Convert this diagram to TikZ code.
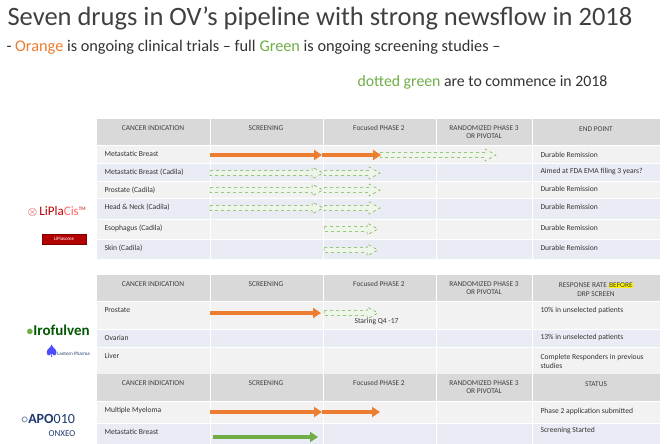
\documentclass[tikz,border=0pt]{standalone}
\usepackage{fontspec}
\setmainfont{Carlito}
\usetikzlibrary{arrows.meta}
\definecolor{org}{HTML}{ED7D31}
\definecolor{grn}{HTML}{70AD47}
\definecolor{hdr}{HTML}{D9D9D9}
\definecolor{rowa}{HTML}{F2F2F2}
\definecolor{rowb}{HTML}{E9ECF4}
\definecolor{navy}{HTML}{1F3A6E}
\tikzset{x=1pt,y=-1pt,
 cell/.style={font=\fontsize{7.6}{8.6}\selectfont,text=black!80,anchor=west},
 hcell/.style={font=\fontsize{7.4}{8.6}\selectfont,text=black!75,align=center},
 oarrow/.style={draw=org,line width=3.5pt,-{Triangle[length=8pt,width=10pt]}},
 garr/.style={draw=grn,dashed,line width=0.5pt,fill=grn!12}}
\newcommand{\hollow}[3]{\path[garr] (#1,#3-2.5) -- (#2-11,#3-2.5) -- (#2-11,#3-6) -- (#2,#3) -- (#2-11,#3+6) -- (#2-11,#3+2.5) -- (#1,#3+2.5) -- cycle;}
\newcommand{\hdrrow}[3]{%
 \fill[hdr] (97,#1) rectangle (660,#2);
 \foreach \a in {210,323,436,532}{\draw[white,line width=1pt] (\a,#1) -- (\a,#2);}
 \node[hcell] at (153,#1+9) {CANCER INDICATION};
 \node[hcell] at (266,#1+9) {SCREENING};
 \node[hcell] at (379,#1+9) {Focused PHASE 2};
 \node[hcell] at (484,#1+13) {RANDOMIZED PHASE 3\\OR PIVOTAL};
 \node[hcell,anchor=north] at (596,#1+4) {#3};}
\newcommand{\brow}[4]{%
 \fill[#3] (97,#1) rectangle (660,#2);
 \draw[white,line width=1pt] (97,#1) -- (660,#1);
 \foreach \a in {210,323,436,532}{\draw[white,line width=1pt] (\a,#1) -- (\a,#2);}
 \node[cell] at (101,#1+9) {#4};}
\begin{document}
\begin{tikzpicture}
\useasboundingbox[fill=white] (0,0) rectangle (667,444);
\node[anchor=west,font=\fontsize{26.5}{30}\selectfont,text=black!75] (title) at (4,18) {Seven drugs in OV’s pipeline with strong newsflow in 2018};
\node[anchor=west,font=\fontsize{16.3}{18}\selectfont,text=black!80] (sub) at (3,47) {- \textcolor{org}{Orange} is ongoing clinical trials – full \textcolor{grn}{Green} is ongoing screening studies –};
\node[anchor=west,font=\fontsize{15.8}{18}\selectfont,text=black!80] (sub2) at (354,82) {\textcolor{grn}{dotted green} are to commence in 2018};
% table 1
\hdrrow{119}{145}{END POINT}
\brow{145}{163}{rowa}{Metastatic Breast}
\brow{163}{181}{rowb}{Metastatic Breast (Cadila)}
\brow{181}{198}{rowa}{Prostate (Cadila)}
\brow{198}{219}{rowb}{Head \& Neck (Cadila)}
\brow{219}{239}{rowa}{Esophagus (Cadila)}
\brow{239}{259}{rowb}{Skin (Cadila)}
\node[cell] at (537,155) {Durable Remission};
\node[cell] at (537,172) {Aimed at FDA EMA filing 3 years?};
\node[cell] at (537,189) {Durable Remission};
\node[cell] at (537,207) {Durable Remission};
\node[cell] at (537,228) {Durable Remission};
\node[cell] at (537,248) {Durable Remission};
\hollow{380}{496}{155}
\draw[oarrow] (210,155) -- (322,155);
\draw[oarrow] (322,155) -- (381,155);
\foreach \yy in {173,190,208}{\hollow{210}{323}{\yy}\hollow{324}{380}{\yy}}
\hollow{324}{378}{229}
\hollow{324}{378}{250}
% table 2
\hdrrow{275}{301}{RESPONSE RATE {\fboxsep=0.5pt\colorbox{yellow}{BEFORE}}\\DRP SCREEN}
\brow{301}{329}{rowa}{Prostate}
\brow{329}{347}{rowb}{Ovarian}
\brow{347}{374}{rowa}{Liver}
\node[cell] at (537,310) {10\% in unselected patients};
\node[cell] at (537,337) {13\% in unselected patients};
\node[cell,align=left,anchor=north west] at (537,351) {Complete Responders in previous\\studies};
\hollow{324}{378}{313}
\draw[oarrow] (210,313) -- (321,313);
\node[cell] at (351,322) {Staring Q4 -17};
% table 3
\hdrrow{374}{401}{STATUS}
\brow{401}{423}{rowa}{Multiple Myeloma}
\brow{423}{444}{rowb}{Metastatic Breast}
\node[cell] at (537,411) {Phase 2 application submitted};
\node[cell] at (537,431) {Screening Started};
\draw[oarrow] (210,412) -- (322,412);
\draw[oarrow] (322,412) -- (380,412);
\draw[draw=grn,line width=3.5pt,-{Triangle[length=8pt,width=10pt]}] (213,437) -- (318,437);
% logos
\node[font=\fontsize{13}{14}\selectfont,text=red!75!black] (lip) at (57,211) {$\otimes$\,LiPla\textcolor{red!60}{Cis}\textsuperscript{\tiny TM}};
\node[draw=red!50!black,fill=red!70!black,font=\tiny,text=white,minimum width=44pt,minimum height=9pt] (lpbox) at (64,239) {LiPlasome};
\node[font=\bfseries\fontsize{15}{16}\selectfont,text=green!35!black] (iro) at (58,330) {\textcolor{grn}{$\bullet$}Irofulven};
\node[font=\fontsize{5}{6}\selectfont,text=navy] (lant) at (68,351) {\textcolor{blue!70}{\Large$\spadesuit$}Lantern Pharma};
\node[font=\bfseries\fontsize{14}{15}\selectfont,text=navy] (apo) at (48,419) {$\circ$APO\textmd{010}};
\node[font=\fontsize{9}{10}\selectfont,text=navy] (onx) at (62,434) {ONXEO};
\end{tikzpicture}
\end{document}
